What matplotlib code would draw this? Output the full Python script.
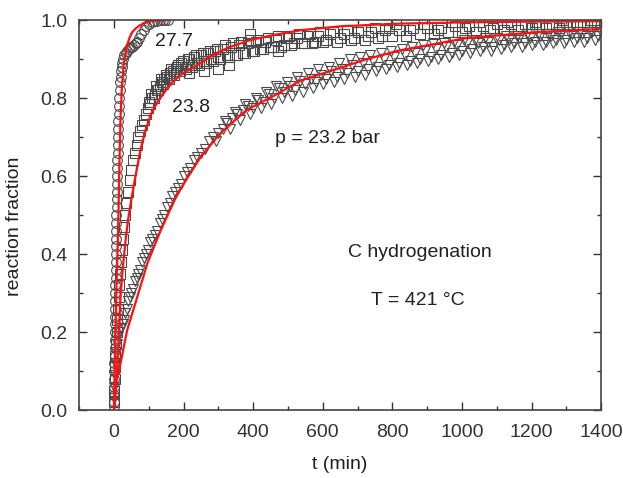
import matplotlib
matplotlib.use("Agg")
import matplotlib.pyplot as plt
from matplotlib.ticker import MultipleLocator, FormatStrFormatter

plt.rcParams['font.family'] = ['Liberation Sans', 'DejaVu Sans']

# ---- data: 27.7 bar (circles) ----
t_277 = [0, 0, 0, 1, 1, 1, 1, 2, 2, 2, 2, 3, 3, 3, 4, 4, 4, 5, 5, 5, 6, 6, 6, 7, 7,
         7, 8, 8, 8, 9, 9, 10, 10, 11, 11, 12, 12, 13, 14, 15, 16, 17, 18, 19, 20,
         22, 24, 27, 30, 34, 38, 42, 47, 52, 57, 62, 67, 72, 78, 85, 92, 100, 108,
         116, 124, 132, 140, 148, 156]
f_277 = [0.0, 0.02, 0.04, 0.06, 0.08, 0.10, 0.12, 0.14, 0.16, 0.18, 0.20, 0.22, 0.24,
         0.26, 0.28, 0.30, 0.32, 0.34, 0.36, 0.38, 0.40, 0.42, 0.44, 0.46, 0.48, 0.50,
         0.52, 0.54, 0.56, 0.58, 0.60, 0.62, 0.64, 0.66, 0.68, 0.70, 0.72, 0.74, 0.76,
         0.78, 0.80, 0.82, 0.84, 0.855, 0.87, 0.88, 0.89, 0.90, 0.91, 0.915, 0.92,
         0.925, 0.93, 0.93, 0.935, 0.94, 0.945, 0.955, 0.965, 0.975, 0.985, 0.99,
         0.995, 0.997, 0.998, 1.0, 1.0, 1.0, 1.0]
fit_t_277 = [0, 2, 4, 6, 8, 10, 12, 14, 16, 19, 23, 28, 33, 38, 45, 52, 62, 75, 88,
             100, 120, 157]
fit_f_277 = [0.0, 0.10, 0.19, 0.27, 0.34, 0.40, 0.46, 0.55, 0.64, 0.75, 0.83, 0.885,
             0.915, 0.936, 0.955, 0.968, 0.978, 0.987, 0.992, 0.996, 0.999, 1.0]

# ---- data: 23.8 bar (squares) ----
t_238 = [0, 1, 2, 3, 4, 6, 8, 10, 12, 14, 16, 18, 20, 23, 26, 29, 32, 36, 40, 45, 50,
         55, 60, 65, 70, 75, 80, 86, 92, 98, 104, 110, 117, 124, 131, 138, 145, 153,
         161, 169, 177, 185, 194, 203, 212, 221, 230, 240, 250, 260, 270, 280, 290,
         300, 312, 324, 336, 348, 360, 372, 384, 396, 408, 420, 435, 450, 465, 480,
         495, 510, 525, 540, 555, 570, 585, 600, 620, 640, 660, 680, 700, 720, 740,
         760, 780, 800, 820, 840, 860, 880, 900, 920, 940, 960, 980, 1000, 1020,
         1040, 1060, 1080, 1100, 1120, 1140, 1160, 1180, 1200, 1220, 1240, 1260,
         1280, 1300, 1320, 1340, 1360, 1380, 1400, 258, 300, 330, 390, 470, 215]
f_238 = [0.02, 0.05, 0.08, 0.11, 0.14, 0.17, 0.20, 0.23, 0.26, 0.29, 0.32, 0.35, 0.38,
         0.41, 0.44, 0.47, 0.50, 0.53, 0.56, 0.59, 0.615, 0.64, 0.66, 0.68, 0.70,
         0.715, 0.73, 0.745, 0.76, 0.775, 0.785, 0.80, 0.81, 0.82, 0.83, 0.84, 0.85,
         0.855, 0.865, 0.87, 0.875, 0.885, 0.89, 0.88, 0.90, 0.885, 0.905, 0.89, 0.91,
         0.895, 0.915, 0.90, 0.92, 0.905, 0.925, 0.91, 0.93, 0.91, 0.935, 0.915, 0.94,
         0.92, 0.945, 0.925, 0.945, 0.93, 0.95, 0.93, 0.955, 0.935, 0.955, 0.94, 0.96,
         0.94, 0.96, 0.945, 0.965, 0.945, 0.965, 0.95, 0.97, 0.95, 0.97, 0.955, 0.975,
         0.96, 0.975, 0.96, 0.98, 0.965, 0.98, 0.965, 0.98, 0.97, 0.985, 0.97, 0.985,
         0.97, 0.985, 0.975, 0.99, 0.975, 0.99, 0.975, 0.99, 0.98, 0.99, 0.98, 0.99,
         0.98, 0.995, 0.985, 0.995, 0.985, 0.995, 0.985, 0.87, 0.875, 0.885, 0.965,
         0.92, 0.865]
t_238_more = [100, 107, 114, 121, 128, 135, 142, 150, 157, 165, 173, 181, 189, 198,
              207, 216, 225, 235, 245, 255, 265, 275, 285, 295, 306, 318, 330, 342,
              354, 366, 378, 390, 402, 414, 428, 442, 456, 472, 488, 502, 517, 532,
              547, 562, 577, 592, 610, 630, 650, 670, 690, 710, 730, 750, 770, 790,
              810, 850, 890, 930, 970, 1010, 1050, 1090, 1130, 1170, 1210, 1250, 1290,
              1330, 1370]
f_238_more = [0.79, 0.81, 0.80, 0.83, 0.82, 0.85, 0.835, 0.86, 0.85, 0.875, 0.86,
              0.88, 0.87, 0.895, 0.875, 0.90, 0.88, 0.91, 0.885, 0.915, 0.89, 0.92,
              0.895, 0.925, 0.90, 0.935, 0.905, 0.94, 0.91, 0.945, 0.915, 0.95, 0.92,
              0.95, 0.925, 0.955, 0.93, 0.96, 0.935, 0.96, 0.94, 0.965, 0.94, 0.965,
              0.945, 0.97, 0.95, 0.97, 0.955, 0.975, 0.955, 0.975, 0.96, 0.98, 0.96,
              0.98, 0.99, 0.975, 0.99, 0.975, 0.995, 0.98, 0.995, 0.98, 0.995, 0.985,
              0.995, 0.985, 1.0, 0.99, 1.0]
fit_t_238 = [0, 3, 6, 10, 14, 19, 25, 34, 41, 50, 62, 77, 90, 105, 125, 145, 168, 195,
             225, 250, 283, 330, 393, 460, 537, 650, 824, 1000, 1200, 1400]
fit_f_238 = [0.0, 0.02, 0.06, 0.12, 0.19, 0.29, 0.36, 0.44, 0.49, 0.54, 0.60, 0.67,
             0.715, 0.756, 0.79, 0.815, 0.84, 0.862, 0.877, 0.89, 0.91, 0.93, 0.949,
             0.962, 0.974, 0.984, 0.991, 0.994, 0.996, 0.997]

# ---- data: 23.2 bar (triangles) ----
t_232 = [0, 1, 2, 3, 5, 8, 12, 16, 20, 25, 29, 33, 37, 41, 45, 50, 55, 60, 65, 70, 75,
         80, 86, 92, 98, 104, 110, 117, 124, 131, 138, 145, 152, 160, 168, 176, 184,
         192, 200, 210, 220, 230, 240, 250, 262, 274, 286, 298, 312, 326, 340, 355,
         370, 385, 400, 415, 430, 445, 460, 475, 490, 505, 520, 535, 550, 565, 580,
         595, 610, 625, 640, 655, 670, 685, 700, 715, 730, 745, 760, 775, 790, 805,
         820, 835, 850, 865, 880, 895, 910, 925, 940, 955, 970, 985, 1000, 1015,
         1030, 1045, 1060, 1075, 1090, 1105, 1120, 1135, 1150, 1165, 1180, 1195,
         1210, 1225, 1240, 1255, 1270, 1285, 1300, 1315, 1330, 1345, 1360, 1375,
         1390]
f_232 = [0.03, 0.06, 0.09, 0.12, 0.15, 0.17, 0.19, 0.20, 0.21, 0.22, 0.23, 0.25, 0.26,
         0.28, 0.29, 0.30, 0.31, 0.33, 0.34, 0.35, 0.36, 0.38, 0.39, 0.40, 0.41, 0.43,
         0.44, 0.45, 0.46, 0.48, 0.49, 0.50, 0.52, 0.53, 0.55, 0.56, 0.57, 0.58, 0.60,
         0.61, 0.62, 0.64, 0.65, 0.66, 0.67, 0.69, 0.70, 0.71, 0.72, 0.735, 0.75,
         0.76, 0.77, 0.78, 0.775, 0.795, 0.79, 0.81, 0.80, 0.825, 0.815, 0.83, 0.82,
         0.845, 0.835, 0.85, 0.84, 0.86, 0.85, 0.87, 0.855, 0.875, 0.865, 0.885,
         0.87, 0.89, 0.875, 0.895, 0.88, 0.90, 0.885, 0.905, 0.89, 0.91, 0.895, 0.915,
         0.90, 0.92, 0.905, 0.925, 0.91, 0.93, 0.915, 0.935, 0.92, 0.94, 0.925, 0.94,
         0.93, 0.945, 0.93, 0.95, 0.935, 0.95, 0.94, 0.955, 0.94, 0.955, 0.945, 0.96,
         0.945, 0.96, 0.95, 0.965, 0.95, 0.965, 0.955, 0.965, 0.955, 0.97, 0.96]
t_232_more = [292, 319, 333, 347, 362, 377, 392, 407, 422, 437, 452, 467, 482, 497,
              512, 527, 542, 557, 572, 587, 602, 617, 632, 647, 662, 677, 692, 707,
              722, 737, 752, 767, 782, 797, 812, 827, 842, 857, 872, 887, 902, 917,
              932, 947, 962, 977, 992, 1007, 1022, 1037, 1052, 1067, 1082, 1097, 1112,
              1127, 1142, 1157, 1172, 1187, 1202, 1217, 1232, 1247, 1262, 1277, 1292,
              1307, 1322, 1337, 1352, 1367, 1382, 1397]
f_232_more = [0.69, 0.74, 0.72, 0.765, 0.745, 0.785, 0.76, 0.80, 0.775, 0.815, 0.785,
              0.83, 0.80, 0.84, 0.805, 0.855, 0.815, 0.865, 0.825, 0.875, 0.835, 0.88,
              0.84, 0.89, 0.85, 0.90, 0.855, 0.905, 0.86, 0.91, 0.87, 0.915, 0.875,
              0.92, 0.88, 0.925, 0.885, 0.93, 0.89, 0.935, 0.895, 0.94, 0.90, 0.94,
              0.905, 0.945, 0.91, 0.95, 0.915, 0.95, 0.92, 0.955, 0.92, 0.955, 0.925,
              0.96, 0.93, 0.96, 0.93, 0.965, 0.935, 0.965, 0.935, 0.965, 0.94, 0.97,
              0.94, 0.97, 0.945, 0.97, 0.945, 0.97, 0.95, 0.975]
fit_t_232 = [0, 3, 8, 19, 38, 67, 96, 134, 175, 200, 250, 306, 382, 464, 537, 631,
             727, 824, 900, 1014, 1200, 1400]
fit_f_232 = [0.0, 0.04, 0.08, 0.12, 0.205, 0.29, 0.376, 0.46, 0.54, 0.58, 0.65, 0.71,
             0.77, 0.808, 0.845, 0.872, 0.90, 0.923, 0.935, 0.954, 0.968, 0.977]

fig = plt.figure(figsize=(6.23, 4.78), dpi=100)
ax = fig.add_axes([0.127, 0.142, 0.838, 0.816])

mk = dict(linestyle='none', markerfacecolor='none', markeredgecolor='#4a4a4a',
          markeredgewidth=0.8, markersize=7)
ax.plot(t_232 + t_232_more, f_232 + f_232_more, marker='v', **mk)
ax.plot(t_238 + t_238_more, f_238 + f_238_more, marker='s', **mk)
ax.plot(t_277, f_277, marker='o', **mk)

red = dict(color='#ff1010', linewidth=1.6)
ax.plot(fit_t_232, fit_f_232, **red)
ax.plot(fit_t_238, fit_f_238, **red)
ax.plot(fit_t_277, fit_f_277, **red)

ax.set_xlim(-100, 1400)
ax.set_ylim(0, 1.0)
ax.set_xticks([0, 200, 400, 600, 800, 1000, 1200, 1400])
ax.xaxis.set_minor_locator(MultipleLocator(100))
ax.yaxis.set_major_locator(MultipleLocator(0.2))
ax.yaxis.set_minor_locator(MultipleLocator(0.1))
ax.yaxis.set_major_formatter(FormatStrFormatter('%.1f'))
ax.tick_params(which='both', direction='in', top=True, right=True,
               labelsize=14, colors='#333333', width=1.0)
ax.tick_params(which='major', length=6)
ax.tick_params(which='minor', length=3)
ax.tick_params(axis='x', pad=10)
ax.tick_params(axis='y', pad=8.5)
for s in ax.spines.values():
    s.set_color('#444444')
    s.set_linewidth(1.2)

ax.set_xlabel('t (min)', fontsize=14, color='#222222')
ax.xaxis.set_label_coords(0.5, -0.118)
ax.set_ylabel('reaction fraction', fontsize=14, color='#222222')
ax.yaxis.set_label_coords(-0.107, 0.47)

tx = dict(fontsize=14, color='#222222', va='center')
ax.text(118, 0.944, '27.7', ha='left', **tx)
ax.text(167, 0.777, '23.8', ha='left', **tx)
ax.text(764, 0.697, 'p = 23.2 bar', ha='right', **tx)
ax.text(1086, 0.405, 'C hydrogenation', ha='right', **tx)
ax.text(1009, 0.282, 'T = 421 °C', ha='right', **tx)

fig.savefig('out.png', dpi=100)
